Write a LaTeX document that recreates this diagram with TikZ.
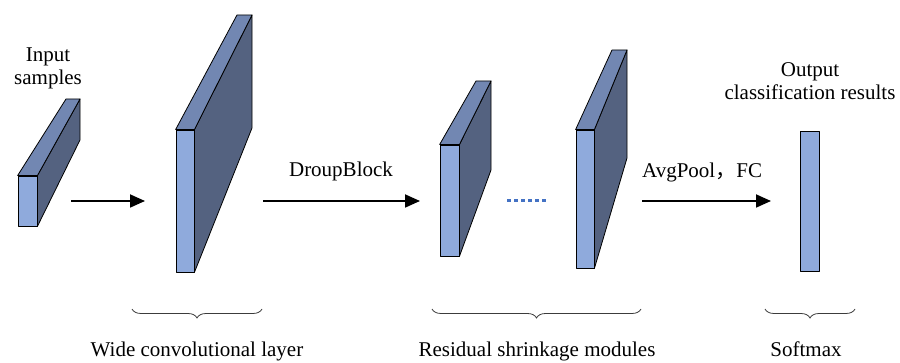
\documentclass[tikz,border=0pt]{standalone}
\usepackage{fontspec}
\setmainfont{Liberation Serif}
\newfontfamily\cjk{Noto Sans CJK SC}
\usetikzlibrary{decorations.pathreplacing,arrows.meta}
\definecolor{frontc}{RGB}{143,170,220}
\definecolor{topc}{RGB}{114,135,178}
\definecolor{sidec}{RGB}{84,98,128}
\definecolor{dotc}{RGB}{68,114,196}
\definecolor{bracec}{RGB}{60,60,60}
\begin{document}
\begin{tikzpicture}[x=1pt,y=-1pt,
  face/.style={draw=black,line width=0.8pt,line join=round},
  frontface/.style={face,fill=frontc,inner sep=0pt,minimum width=#1},
  topface/.style={face,fill=topc},
  sideface/.style={face,fill=sidec},
  txt/.style={font=\fontsize{21}{23}\selectfont,inner sep=0pt,anchor=base},
  flow/.style={line width=1.8pt,-{Triangle[length=15pt,width=13pt]}},
  grp/.style={draw=bracec,line width=0.8pt,decorate,decoration={brace,mirror,amplitude=9pt}}]
\useasboundingbox (0,0) rectangle (900,363);

% input sample slab
\node[frontface=19pt,minimum height=50pt] (b1) at (27.5,201) {};
\draw[sideface] (b1.north east) -- (80,99) -- (80,140) -- (b1.south east) -- cycle;
\draw[topface] (b1.north west) -- (66,99) -- (80,99) -- (b1.north east) -- cycle;

% wide convolutional layer slab
\node[frontface=18pt,minimum height=142pt] (b2) at (185,201) {};
\draw[sideface] (b2.north east) -- (252,15) -- (252,128) -- (b2.south east) -- cycle;
\draw[topface] (b2.north west) -- (237,15) -- (252,15) -- (b2.north east) -- cycle;

% residual module 1
\node[frontface=19pt,minimum height=111pt] (b3) at (449.5,200.5) {};
\draw[sideface] (b3.north east) -- (491,81) -- (491,170) -- (b3.south east) -- cycle;
\draw[topface] (b3.north west) -- (476,81) -- (491,81) -- (b3.north east) -- cycle;

% residual module n
\node[frontface=18pt,minimum height=138pt] (b4) at (585,199) {};
\draw[sideface] (b4.north east) -- (627,50) -- (627,158) -- (b4.south east) -- cycle;
\draw[topface] (b4.north west) -- (612,50) -- (627,50) -- (b4.north east) -- cycle;

% softmax output bar
\node[frontface=19pt,minimum height=140pt] (b5) at (809.5,201) {};

% dots between modules
\coordinate (d1) at (507,201);
\coordinate (d2) at (547,201);
\draw[dotc,line width=3pt,dash pattern=on 4pt off 3pt] (d1) -- (d2);

% arrows
\coordinate (a1s) at (71,201);
\coordinate (a1e) at (145,201);
\coordinate (a2s) at (263,201);
\coordinate (a2e) at (420,201);
\coordinate (a3s) at (642,201);
\coordinate (a3e) at (771,201);
\draw[flow] (a1s) -- (a1e);
\draw[flow] (a2s) -- (a2e);
\draw[flow] (a3s) -- (a3e);

% labels
\node[txt] (tin1) at (48,62) {Input};
\node[txt] (tin2) at (48,85) {samples};
\node[txt] (tout1) at (810,77) {Output};
\node[txt] (tout2) at (810,100) {classification results};
\node[txt] (tdb) at (341,177) {DroupBlock};
\node[txt,anchor=base west] (tavg) at (642,178) {AvgPool{\cjk ，}FC};

% braces
\coordinate (g1l) at (132,309);
\coordinate (g1r) at (262,309);
\coordinate (g2l) at (432,309);
\coordinate (g2r) at (641,309);
\coordinate (g3l) at (765,309);
\coordinate (g3r) at (855,309);
\draw[grp] (g1l) -- (g1r);
\draw[grp] (g2l) -- (g2r);
\draw[grp] (g3l) -- (g3r);

\node[txt] (lwide) at (197,357) {Wide convolutional layer};
\node[txt] (lres) at (537,357) {Residual shrinkage modules};
\node[txt] (lsoft) at (806,357) {Softmax};
\end{tikzpicture}
\end{document}
